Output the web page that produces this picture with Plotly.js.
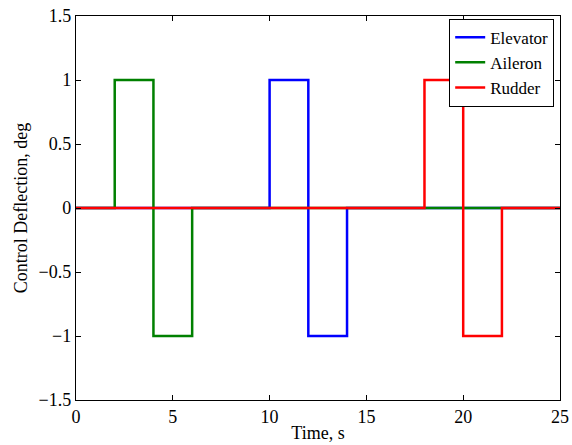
<!DOCTYPE html>
<html>
<head>
<meta charset="utf-8">
<script src="https://cdn.plot.ly/plotly-3.0.1.min.js"></script>
<style>
  html, body { margin: 0; padding: 0; background: #fff; }
  #chart { width: 572px; height: 445px; }
</style>
</head>
<body>
<div id="chart"></div>
<script>
// Step inputs: each value holds from its time until the next time (hv steps)
const elevatorTime = [0, 10, 12, 14, 25];
const elevatorDeg  = [0, 1, -1, 0, 0];

const aileronTime = [0, 2, 4, 6, 25];
const aileronDeg  = [0, 1, -1, 0, 0];

const rudderTime = [0, 18, 20, 22, 25];
const rudderDeg  = [0, 1, -1, 0, 0];

const xTickVals = [0, 5, 10, 15, 20, 25];
const yTickVals = [-1.5, -1, -0.5, 0, 0.5, 1, 1.5];
const yTickText = ['\u22121.5', '\u22121', '\u22120.5', '0', '0.5', '1', '1.5'];

const serif = '"Liberation Serif", "Times New Roman", serif';

function stepTrace(name, x, y, color) {
  return {
    type: 'scatter', mode: 'lines', name: name,
    x: x, y: y,
    line: { color: color, width: 2.5, shape: 'hv' }
  };
}

const traces = [
  stepTrace('Elevator', elevatorTime, elevatorDeg, '#0000ff'),
  stepTrace('Aileron', aileronTime, aileronDeg, '#008000'),
  stepTrace('Rudder', rudderTime, rudderDeg, '#ff0000')
];

const axisCommon = {
  showgrid: false, zeroline: false,
  showline: true, linecolor: '#000', linewidth: 1.2,
  mirror: 'ticks', ticks: 'inside', ticklen: 5, tickcolor: '#000', tickwidth: 1,
  tickfont: { family: serif, size: 18, color: '#000' }
};

const layout = {
  width: 572, height: 445,
  margin: { l: 76, r: 12, t: 16, b: 45 },
  paper_bgcolor: '#fff', plot_bgcolor: '#fff',
  showlegend: true,
  legend: {
    x: 0.988, xanchor: 'right', y: 0.993, yanchor: 'top',
    bgcolor: '#fff', bordercolor: '#000', borderwidth: 1,
    font: { family: serif, size: 17, color: '#000' },
    tracegroupgap: 0
  },
  xaxis: Object.assign({}, axisCommon, {
    range: [0, 25], tickvals: xTickVals,
    title: { text: 'Time, s', font: { family: serif, size: 18, color: '#000' }, standoff: 0 }
  }),
  yaxis: Object.assign({}, axisCommon, {
    range: [-1.5, 1.5], tickvals: yTickVals, ticktext: yTickText,
    title: { text: 'Control Deflection, deg', font: { family: serif, size: 18, color: '#000' }, standoff: 6 }
  })
};

Plotly.newPlot('chart', traces, layout, { displayModeBar: false, staticPlot: true });
</script>
</body>
</html>
